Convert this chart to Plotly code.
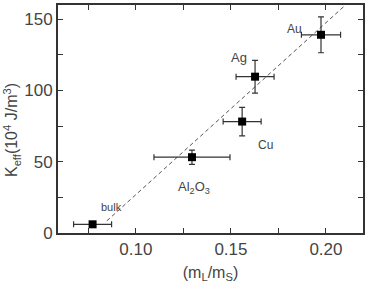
import plotly.graph_objects as go

# data
labels = ["bulk", "Al2O3", "Cu", "Ag", "Au"]
x_vals = [0.0772, 0.1295, 0.1559, 0.1627, 0.1974]
y_vals = [6.1, 53.2, 78.2, 109.7, 139.1]
x_err = [0.010, 0.020, 0.010, 0.010, 0.0103]
y_err = [0.0, 5.0, 10.0, 11.5, 12.6]

fit_x = [0.0847, 0.2103]
fit_y = [8.5, 160.0]

label_text = ["bulk", "Al<sub>2</sub>O<sub>3</sub>", "Cu", "Ag", "Au"]
label_x = [0.0873, 0.1308, 0.1683, 0.1544, 0.1832]
label_y = [18.6, 32.0, 62.0, 123.4, 143.4]
label_size = [11, 13, 12, 13, 12]

x_tickvals = [0.10, 0.15, 0.20]
x_ticktext = ["0.10", "0.15", "0.20"]
y_tickvals = [0, 50, 100, 150]
y_ticktext = ["0", "50", "100", "150"]

y_title = "K<sub>eff</sub>(10<sup>4</sup> J/m<sup>3</sup>)"
x_title = "(m<sub>L</sub>/m<sub>S</sub>)"

font_family = "Liberation Sans, Arial, sans-serif"
axis_col = "#333333"
text_col = "#444444"

fig = go.Figure()

fig.add_trace(go.Scatter(
    x=fit_x, y=fit_y, mode="lines",
    line=dict(color="#555555", width=1, dash="4px,3px"),
    showlegend=False, hoverinfo="skip",
))

fig.add_trace(go.Scatter(
    x=x_vals, y=y_vals, mode="markers",
    marker=dict(symbol="square", size=8, color="black"),
    error_x=dict(type="data", array=x_err, visible=True, color=axis_col, thickness=1.2, width=3),
    error_y=dict(type="data", array=y_err, visible=True, color=axis_col, thickness=1.2, width=3),
    showlegend=False,
))

for t, lx, ly, s in zip(label_text, label_x, label_y, label_size):
    fig.add_annotation(x=lx, y=ly, text=t, showarrow=False,
                       font=dict(size=s, color=text_col, family=font_family))

# y-axis title placed as rotated annotation
fig.add_annotation(xref="paper", yref="y", x=-0.153, y=72.5, text=y_title,
                   textangle=-90, showarrow=False, xanchor="center", yanchor="middle",
                   font=dict(size=16, color=text_col, family=font_family))

fig.update_layout(
    width=367, height=284,
    margin=dict(l=58, r=2, t=5, b=51),
    paper_bgcolor="white", plot_bgcolor="white",
    font=dict(family=font_family, color=text_col),
    xaxis=dict(
        range=[0.059, 0.2195], tickvals=x_tickvals, ticktext=x_ticktext,
        ticks="inside", ticklen=5, tickwidth=1.2, tickcolor=axis_col,
        minor=dict(tickvals=[0.075, 0.125, 0.175], ticks="inside", ticklen=5, tickwidth=1.2, tickcolor=axis_col),
        showline=True, linecolor=axis_col, linewidth=2, mirror="allticks",
        showgrid=False, zeroline=False,
        tickfont=dict(size=17, color=text_col),
        title=dict(text=x_title, font=dict(size=16, color=text_col), standoff=8),
    ),
    yaxis=dict(
        range=[0, 160], tickvals=y_tickvals, ticktext=y_ticktext,
        ticks="inside", ticklen=5, tickwidth=1.2, tickcolor=axis_col,
        minor=dict(tickvals=[25, 75, 125], ticks="inside", ticklen=5, tickwidth=1.2, tickcolor=axis_col),
        showline=True, linecolor=axis_col, linewidth=2, mirror="allticks",
        showgrid=False, zeroline=False,
        tickfont=dict(size=17, color=text_col),
    ),
)

fig.write_html("out.html")
